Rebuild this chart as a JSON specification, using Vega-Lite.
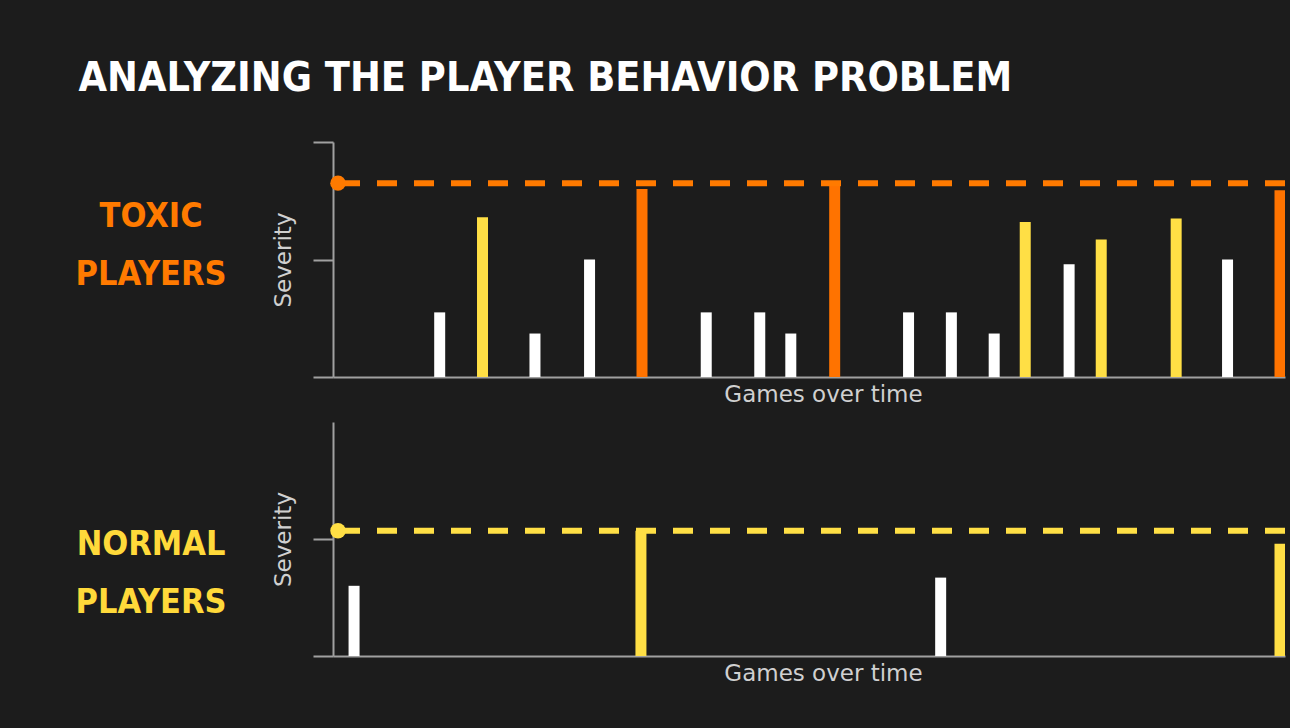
{
  "$schema": "https://vega.github.io/schema/vega-lite/v6.json",
  "background": "#1c1c1c",
  "padding": {"left": 75, "top": 58, "right": 7, "bottom": 48},
  "autosize": {"type": "pad"},
  "title": {
    "text": "ANALYZING THE PLAYER BEHAVIOR PROBLEM",
    "anchor": "start",
    "frame": "bounds",
    "font": "DejaVu Sans Condensed, Liberation Sans Narrow, Liberation Sans",
    "fontWeight": "bold",
    "fontSize": 41,
    "color": "#ffffff",
    "offset": 41,
    "dx": 3
  },
  "datasets": {
    "toxic": [
      {"game": 9.5, "severity": 0.55, "kind": "low"},
      {"game": 13.5, "severity": 1.36, "kind": "high"},
      {"game": 18.4, "severity": 0.37, "kind": "low"},
      {"game": 23.5, "severity": 1.0, "kind": "low"},
      {"game": 28.4, "severity": 1.6, "kind": "toxic"},
      {"game": 34.4, "severity": 0.55, "kind": "low"},
      {"game": 39.4, "severity": 0.55, "kind": "low"},
      {"game": 42.3, "severity": 0.37, "kind": "low"},
      {"game": 46.4, "severity": 1.65, "kind": "toxic"},
      {"game": 53.3, "severity": 0.55, "kind": "low"},
      {"game": 57.3, "severity": 0.55, "kind": "low"},
      {"game": 61.3, "severity": 0.37, "kind": "low"},
      {"game": 64.2, "severity": 1.32, "kind": "high"},
      {"game": 68.3, "severity": 0.96, "kind": "low"},
      {"game": 71.3, "severity": 1.17, "kind": "high"},
      {"game": 78.3, "severity": 1.35, "kind": "high"},
      {"game": 83.1, "severity": 1.0, "kind": "low"},
      {"game": 88, "severity": 1.59, "kind": "toxic"}
    ],
    "normal": [
      {"game": 1.5, "severity": 0.6, "kind": "low"},
      {"game": 28.3, "severity": 1.07, "kind": "high"},
      {"game": 56.3, "severity": 0.67, "kind": "low"},
      {"game": 88, "severity": 0.96, "kind": "high"}
    ],
    "toxicLimit": [{"game": 0, "threshold": 1.65}],
    "normalLimit": [{"game": 0, "threshold": 1.07}]
  },
  "spacing": 16,
  "vconcat": [
    {
      "width": 952,
      "height": 235,
      "title": {
        "text": ["TOXIC", "PLAYERS"],
        "orient": "left",
        "angle": 0,
        "anchor": "middle",
        "align": "center",
        "baseline": "middle",
        "font": "DejaVu Sans Condensed, Liberation Sans Narrow, Liberation Sans",
        "fontWeight": "bold",
        "fontSize": 34,
        "lineHeight": 58,
        "color": "#ff7a00",
        "offset": -30,
        "dy": -43
      },
      "layer": [
        {
          "data": {"name": "toxic"},
          "mark": {"type": "bar", "width": 11, "clip": true},
          "encoding": {
            "x": {
              "field": "game", "type": "quantitative",
              "scale": {"domain": [0, 88], "nice": false, "zero": false},
              "axis": {"title": "Games over time", "titleX": 490}
            },
            "y": {
              "field": "severity", "type": "quantitative", "stack": null,
              "scale": {"domain": [0, 2], "nice": false},
              "axis": {"title": "Severity", "values": [0, 1, 2]}
            },
            "color": {
              "field": "kind", "type": "nominal", "legend": null,
              "scale": {"domain": ["low", "high", "toxic"], "range": ["#ffffff", "#ffdf45", "#ff7300"]}
            }
          }
        },
        {
          "data": {"name": "toxicLimit"},
          "mark": {"type": "rule", "strokeDash": [20, 17], "strokeWidth": 6, "color": "#ff7a00", "strokeCap": "butt"},
          "encoding": {"y": {"field": "threshold", "type": "quantitative"}}
        },
        {
          "data": {"name": "toxicLimit"},
          "mark": {"type": "point", "filled": true, "size": 240, "color": "#ff7a00", "opacity": 1},
          "encoding": {
            "x": {"field": "game", "type": "quantitative"},
            "y": {"field": "threshold", "type": "quantitative"}
          }
        }
      ]
    },
    {
      "width": 952,
      "height": 234,
      "title": {
        "text": ["NORMAL", "PLAYERS"],
        "orient": "left",
        "angle": 0,
        "anchor": "middle",
        "align": "center",
        "baseline": "middle",
        "font": "DejaVu Sans Condensed, Liberation Sans Narrow, Liberation Sans",
        "fontWeight": "bold",
        "fontSize": 34,
        "lineHeight": 58,
        "color": "#ffd93a",
        "offset": -30,
        "dy": 6
      },
      "layer": [
        {
          "data": {"name": "normal"},
          "mark": {"type": "bar", "width": 11, "clip": true},
          "encoding": {
            "x": {
              "field": "game", "type": "quantitative",
              "scale": {"domain": [0, 88], "nice": false, "zero": false},
              "axis": {"title": "Games over time", "titleX": 490}
            },
            "y": {
              "field": "severity", "type": "quantitative", "stack": null,
              "scale": {"domain": [0, 2], "nice": false},
              "axis": {"title": "Severity", "values": [0, 1]}
            },
            "color": {
              "field": "kind", "type": "nominal", "legend": null,
              "scale": {"domain": ["low", "high", "toxic"], "range": ["#ffffff", "#ffdf45", "#ff7300"]}
            }
          }
        },
        {
          "data": {"name": "normalLimit"},
          "mark": {"type": "rule", "strokeDash": [20, 17], "strokeWidth": 6, "color": "#ffdf45", "strokeCap": "butt"},
          "encoding": {"y": {"field": "threshold", "type": "quantitative"}}
        },
        {
          "data": {"name": "normalLimit"},
          "mark": {"type": "point", "filled": true, "size": 240, "color": "#ffdf45", "opacity": 1},
          "encoding": {
            "x": {"field": "game", "type": "quantitative"},
            "y": {"field": "threshold", "type": "quantitative"}
          }
        }
      ]
    }
  ],
  "config": {
    "view": {"stroke": null},
    "axisX": {
      "domainColor": "#a0a0a0", "domainWidth": 2, "ticks": false, "labels": false, "grid": false,
      "titleFont": "DejaVu Sans", "titleFontWeight": "normal", "titleFontSize": 23, "titleColor": "#d0d0d0", "titlePadding": 6
    },
    "axisY": {
      "domainColor": "#a0a0a0", "domainWidth": 2, "tickColor": "#a0a0a0", "tickWidth": 2, "tickSize": 20,
      "labels": false, "grid": false,
      "titleFont": "DejaVu Sans", "titleFontWeight": "normal", "titleFontSize": 23, "titleColor": "#d0d0d0",
      "titlePadding": 17
    }
  }
}
